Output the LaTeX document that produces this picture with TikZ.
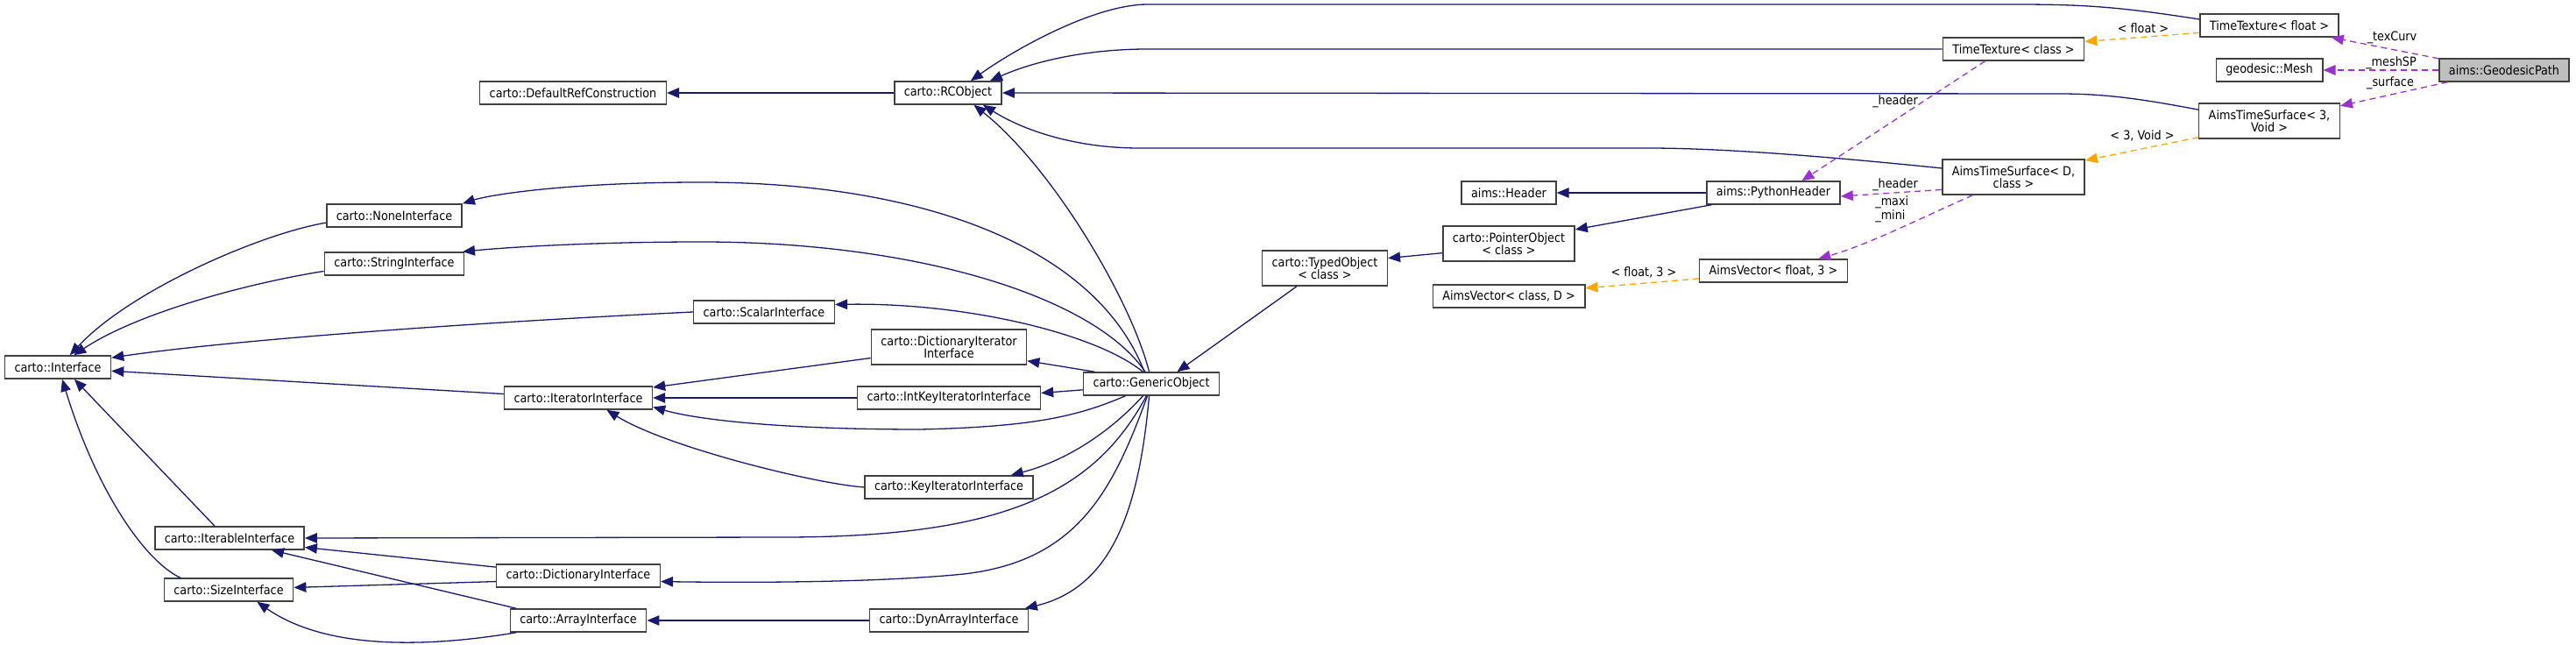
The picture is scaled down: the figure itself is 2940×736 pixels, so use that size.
\documentclass[tikz,border=0pt]{standalone}
\usepackage{fontspec}
\setmainfont{DejaVu Sans Condensed}
\usetikzlibrary{arrows.meta}
\definecolor{inhcolor}{RGB}{25,25,112}
\definecolor{usagecolor}{RGB}{154,50,205}
\definecolor{tplcolor}{RGB}{255,165,0}
\definecolor{rootcolor}{RGB}{191,191,191}
\definecolor{boxcolor}{RGB}{64,64,64}

\begin{document}
\begin{tikzpicture}[x=0.2mm, y=-0.2mm,
    font=\fontsize{8.1}{8}\selectfont,
    cls/.style={draw=boxcolor, line width=0.3mm, fill=white, inner xsep=2.2mm, inner ysep=0pt, minimum height=5.2mm, align=center},
    cls2/.style={cls, minimum height=8mm},
    inh/.style={draw=inhcolor, line width=0.26mm, -{Triangle[length=2.8mm, width=2.3mm]}},
    usage/.style={draw=usagecolor, line width=0.26mm, dash pattern=on 1.4mm off 1mm, -{Triangle[length=2.8mm, width=2.3mm]}},
    tpl/.style={draw=tplcolor, line width=0.26mm, dash pattern=on 1.4mm off 1mm, -{Triangle[length=2.8mm, width=2.3mm]}},
    lbl/.style={inner sep=0pt}]
    \useasboundingbox (0,0) rectangle (2940,736);

    % Ref counting
    \node[cls] (defref) at (654,106) {carto::DefaultRefConstruction};
    \node[cls] (rcobj) at (1082,106) {carto::RCObject};

    % Interfaces
    \node[cls] (iface) at (66,419) {carto::Interface};
    \node[cls] (none) at (450,246) {carto::NoneInterface};
    \node[cls] (string) at (450,301) {carto::StringInterface};
    \node[cls] (scalar) at (872,356) {carto::ScalarInterface};
    \node[cls] (iterif) at (660,454) {carto::IteratorInterface};
    \node[cls2] (dictiter) at (1083,396) {carto::DictionaryIterator\\Interface};
    \node[cls] (intkey) at (1083,454) {carto::IntKeyIteratorInterface};
    \node[cls] (keyiter) at (1083,556) {carto::KeyIteratorInterface};
    \node[cls] (iterable) at (262,614) {carto::IterableInterface};
    \node[cls] (sizeif) at (261,673) {carto::SizeInterface};
    \node[cls] (dictif) at (660,657) {carto::DictionaryInterface};
    \node[cls] (arrayif) at (660,708) {carto::ArrayInterface};
    \node[cls] (dynarray) at (1083,708) {carto::DynArrayInterface};

    % Objects and headers
    \node[cls] (generic) at (1314,438) {carto::GenericObject};
    \node[cls2] (typedobj) at (1512,306) {carto::TypedObject\\< class >};
    \node[cls2] (ptrobj) at (1722,278) {carto::PointerObject\\< class >};
    \node[cls] (header) at (1722,220) {aims::Header};
    \node[cls] (pyheader) at (2024,220) {aims::PythonHeader};
    \node[cls] (avecD) at (1722,338) {AimsVector< class, D >};
    \node[cls] (avecf) at (2024,309) {AimsVector< float, 3 >};

    % Textures and surfaces
    \node[cls] (ttfloat) at (2590,29) {TimeTexture< float >};
    \node[cls] (ttclass) at (2298,56) {TimeTexture< class >};
    \node[cls] (gmesh) at (2590,80) {geodesic::Mesh};
    \node[cls2] (ats3) at (2590,138) {AimsTimeSurface< 3,\\Void >};
    \node[cls2] (atsD) at (2298,202) {AimsTimeSurface< D,\\class >};
    \node[cls, fill=rootcolor] (gpath) at (2858,80) {aims::GeodesicPath};

    % Inheritance
    \draw[inh] (rcobj) -- (defref);
    \draw[inh] (ttfloat.175) .. controls (2420,8) and (2380,5) .. (2300,5) -- (1310,5) .. controls (1250,5) and (1160,55) .. (rcobj.28);
    \draw[inh] (ttclass.west) -- (1310,56) .. controls (1240,56) and (1180,70) .. (rcobj.16);
    \draw[inh] (ats3.171) .. controls (2440,112) and (2400,107) .. (2350,107) -- (rcobj.east);
    \draw[inh] (atsD.173) .. controls (2050,175) and (1950,169) .. (1880,169) -- (1300,169) .. controls (1230,169) and (1170,150) .. (rcobj.-19);
    \draw[inh] (generic.100) .. controls (1290,340) and (1200,190) .. (rcobj.-25);

    \draw[inh] (none.186) .. controls (300,266) and (150,330) .. (iface.45);
    \draw[inh] (string.186) .. controls (290,322) and (160,355) .. (iface.37);
    \draw[inh] (scalar.west) .. controls (500,370) and (250,390) .. (iface.10);
    \draw[inh] (iterif.177) -- (iface.-4);
    \draw[inh] (iterable.141) -- (iface.-36);
    \draw[inh] (sizeif.166) .. controls (165,640) and (110,560) .. (iface.-70);

    \draw[inh] (generic.120) .. controls (1250,280) and (1050,208) .. (800,208) .. controls (650,208) and (560,222) .. (none.10);
    \draw[inh] (generic.117) .. controls (1250,340) and (1050,276) .. (800,276) .. controls (680,276) and (580,282) .. (string.10);
    \draw[inh] (generic.125) .. controls (1250,380) and (1100,345) .. (scalar.6);
    \draw[inh] (generic.168) -- (dictiter.-10);
    \draw[inh] (generic.185) -- (intkey.3);
    \draw[inh] (generic.205) .. controls (1230,475) and (1180,487) .. (1050,490) .. controls (900,490) and (800,480) .. (iterif.-7);
    \draw[inh] (generic.235) .. controls (1270,490) and (1220,525) .. (keyiter.11);
    \draw[inh] (generic.248) .. controls (1250,560) and (1150,612) .. (900,613) -- (iterable.east);
    \draw[inh] (generic.252) .. controls (1270,560) and (1230,640) .. (1100,655) .. controls (1000,665) and (850,665) .. (dictif.-4);
    \draw[inh] (generic.260) .. controls (1300,580) and (1270,670) .. (dynarray.9);

    \draw[inh] (dictiter.188) -- (iterif.8);
    \draw[inh] (intkey.west) -- (iterif.east);
    \draw[inh] (keyiter.west) .. controls (930,552) and (760,510) .. (iterif.-23);
    \draw[inh] (dictif.174) -- (iterable.-7);
    \draw[inh] (arrayif.169) -- (iterable.-16);
    \draw[inh] (dictif.184) -- (sizeif.2);
    \draw[inh] (arrayif.191) .. controls (480,740) and (370,740) .. (sizeif.-23);
    \draw[inh] (dynarray.west) -- (arrayif.east);

    \draw[inh] (typedobj.-147) -- (generic.25);
    \draw[inh] (ptrobj.188) -- (typedobj.9);
    \draw[inh] (pyheader.191) -- (ptrobj.12);
    \draw[inh] (pyheader.west) -- (header.east);

    % Template instances
    \draw[tpl] (ttfloat.186) -- (ttclass.6);
    \node[lbl] (lfloat) at (2446,32) {< float >};
    \draw[tpl] (ats3.193) -- (atsD.13);
    \node[lbl] (lvoid) at (2445,155) {< 3, Void >};
    \draw[tpl] (avecf.186) -- (avecD.6);
    \node[lbl] (lfloat3) at (1876,311) {< float, 3 >};

    % Members
    \draw[usage] (gpath.170) -- (ttfloat.-11);
    \node[lbl] (ltex) at (2730,43) {\_texCurv};
    \draw[usage] (gpath.west) -- (gmesh.east);
    \node[lbl] (lmesh) at (2729,72) {\_meshSP};
    \draw[usage] (gpath.192) -- (ats3.12);
    \node[lbl] (lsurf) at (2728,95) {\_surface};
    \draw[usage] (ttclass.203) -- (pyheader.23);
    \node[lbl] (lhead1) at (2163,116) {\_header};
    \draw[usage] (atsD.190) -- (pyheader.-3);
    \node[lbl] (lhead2) at (2163,211) {\_header};
    \draw[usage] (atsD.204) .. controls (2190,250) and (2130,280) .. (avecf.15);
    \node[lbl, align=left, anchor=west] (lminmax) at (2140,239) {\_maxi\\\_mini};
\end{tikzpicture}
\end{document}
